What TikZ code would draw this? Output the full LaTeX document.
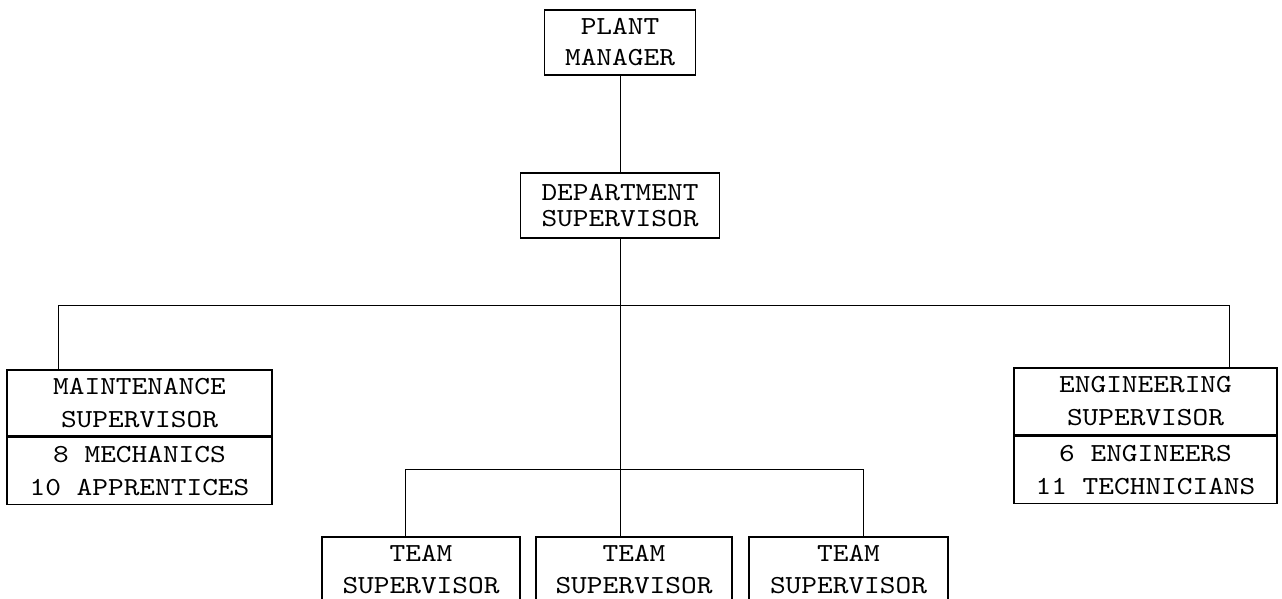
\documentclass[tikz,border=0pt]{standalone}
\usepackage{fontspec}
\usepackage{tikz}
\usetikzlibrary{positioning}
\newfontfamily\typer{lmmono10-regular}[Extension=.otf, FakeStretch=1.15]
\tikzset{
    orgbox/.style={
        draw, line width=1.1pt, inner sep=0pt, align=center,
        font=\typer\fontsize{26}{33}\selectfont
    },
    link/.style={line width=1pt}
}

\begin{document}
\begin{tikzpicture}[x=1pt, y=-1pt]
    \useasboundingbox (0,0) rectangle (1282,598);
    \clip (0,0) rectangle (1282,598);

    %% Top of the chart
    \node[orgbox, minimum width=151, minimum height=65,
          font=\typer\fontsize{26}{31}\selectfont] (plant) at (620,42.5) {PLANT\\MANAGER};
    \node[orgbox, minimum width=199, minimum height=65,
          font=\typer\fontsize{26}{26}\selectfont] (dept) at (620,205.5) {DEPARTMENT\\SUPERVISOR};

    %% Side supervisors with their crews
    \node[orgbox, minimum width=265, minimum height=66] (maint) at (139.5,403) {MAINTENANCE\\SUPERVISOR};
    \node[orgbox, minimum width=265, minimum height=67, below=0pt of maint] (maintcrew) {8 MECHANICS\\10 APPRENTICES};
    \node[orgbox, minimum width=263, minimum height=67] (eng) at (1145.5,401.5) {ENGINEERING\\SUPERVISOR};
    \node[orgbox, minimum width=263, minimum height=67, below=0pt of eng] (engcrew) {6 ENGINEERS\\11 TECHNICIANS};

    %% Team supervisors
    \node[orgbox, minimum width=198, minimum height=66,
          font=\typer\fontsize{26}{32}\selectfont] (team1) at (421,570) {TEAM\\SUPERVISOR};
    \node[orgbox, minimum width=196, minimum height=66,
          font=\typer\fontsize{26}{32}\selectfont] (team2) at (634,570) {TEAM\\SUPERVISOR};
    \node[orgbox, minimum width=199, minimum height=66,
          font=\typer\fontsize{26}{32}\selectfont] (team3) at (848.5,570) {TEAM\\SUPERVISOR};

    %% Connectors
    \coordinate (mtap) at (58,305);
    \coordinate (etap) at (1229,305);
    \coordinate (t1tap) at (405,469);
    \coordinate (t3tap) at (863,469);

    \draw[link] (plant) -- (dept);
    \draw[link] (dept.south) -- (dept.south |- team2.north);
    \draw[link] (mtap) -- (etap);
    \draw[link] (mtap) -- (mtap |- maint.north);
    \draw[link] (etap) -- (etap |- eng.north);
    \draw[link] (t1tap) -- (t3tap);
    \draw[link] (t1tap) -- (t1tap |- team1.north);
    \draw[link] (t3tap) -- (t3tap |- team3.north);
\end{tikzpicture}
\end{document}
